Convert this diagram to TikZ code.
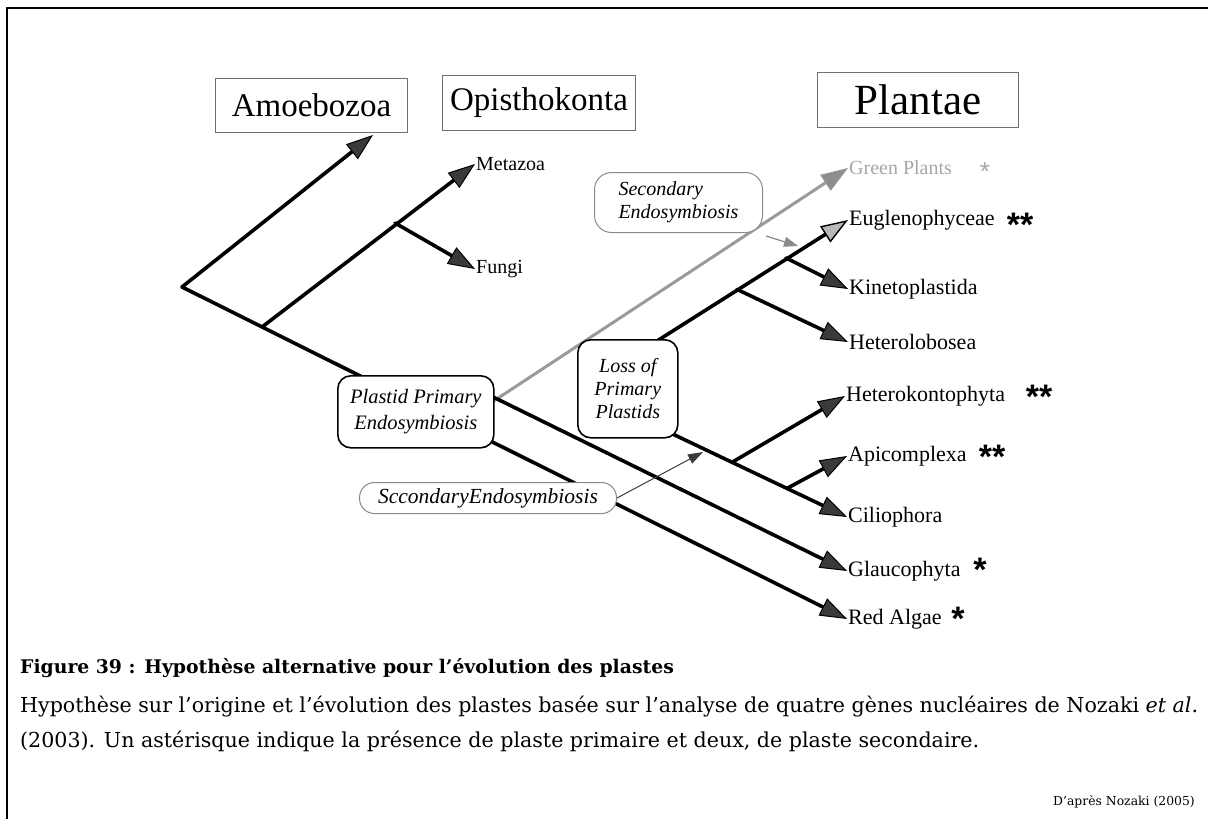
\documentclass[tikz,border=0pt]{standalone}
\usepackage{fontspec}
\setmainfont{Liberation Serif}
\newfontfamily\capfont{DejaVu Serif}
\newfontfamily\starfont{Liberation Sans}
\usetikzlibrary{arrows.meta}

\definecolor{headfill}{HTML}{3A3A3A}
\definecolor{greyline}{HTML}{9A9A9A}
\definecolor{greyhead}{HTML}{8E8E8E}
\definecolor{eughead}{HTML}{B8B8B8}
\definecolor{boxline}{HTML}{707070}
\definecolor{softline}{HTML}{8A8A8A}
\definecolor{greentext}{HTML}{A6A6A6}

\begin{document}
\begin{tikzpicture}[x=1pt,y=-1pt,
  tree/.style={line width=3.6pt, draw=black, line cap=round},
  gtree/.style={line width=3pt, draw=greyline, line cap=round},
  darktip/.style={-{Triangle[length=27pt,width=19pt,line width=1pt,fill=headfill]}},
  euglenatip/.style={-{Triangle[length=27pt,width=19pt,line width=1.4pt,fill=eughead]}},
  greytip/.style={-{Triangle[length=27pt,width=19pt,line width=0.8pt,fill=greyhead]}},
  cladebox/.style={draw=boxline, line width=1.1pt, fill=white, inner sep=0pt,
                   font=\fontsize{33}{36}\selectfont},
  eventbox/.style={draw=black, line width=1.6pt, fill=white, rounded corners=13pt,
                   inner sep=0pt, align=center, font=\itshape\fontsize{20}{23}\selectfont},
  softbox/.style={draw=softline, line width=1pt, fill=white, rounded corners=17pt,
                  inner sep=0pt, font=\itshape\fontsize{20}{23}\selectfont},
  taxon/.style={anchor=west, inner sep=1pt, font=\fontsize{22}{24}\selectfont},
  smalltaxon/.style={anchor=west, inner sep=1pt, font=\fontsize{20}{22}\selectfont},
  star/.style={anchor=base, inner sep=0pt, font=\starfont\bfseries\fontsize{34}{34}\selectfont},
  caption/.style={anchor=base west, inner sep=0pt}
]
\useasboundingbox (0,0) rectangle (1208,819);

% frame
\draw[line width=2.6pt] (7,819) -- (7,8) -- (1208,8);

% branching points of the tree
\coordinate (root) at (182,287);
\coordinate (opis) at (262,327);
\coordinate (metafork) at (395,223);
\coordinate (ppeout) at (485,393);
\coordinate (ppegreen) at (480,410);
\coordinate (lossup) at (650,345.4);
\coordinate (kinfork) at (786,257.9);
\coordinate (hetfork) at (737,289.4);
\coordinate (lossdown) at (660,428);
\coordinate (strafork) at (732,462.3);
\coordinate (apifork) at (787,488.4);
\coordinate (amoebtip) at (373,135);

% taxon labels (their west end is where each arrow points)
\node[smalltaxon] (metazoa) at (475,164) {Metazoa};
\node[smalltaxon] (fungi) at (475,269) {Fungi};
\node[smalltaxon, text=greentext] (green) at (848,168) {Green Plants};
\node[taxon] (eugl) at (848,220) {Euglenophyceae};
\node[taxon] (kine) at (848,289) {Kinetoplastida};
\node[taxon] (hetl) at (848,342) {Heterolobosea};
\node[taxon] (hetk) at (845,396) {Heterokontophyta};
\node[taxon] (apic) at (847,456) {Apicomplexa};
\node[taxon] (cili) at (847,517) {Ciliophora};
\node[taxon] (glau) at (847,571) {Glaucophyta};
\node[taxon] (reda) at (847,619) {Red Algae};

% asterisks: one for a primary plastid, two for a secondary one
\node[star, text=greentext, font=\starfont\fontsize{26}{26}\selectfont] (sgreen) at (985,180) {*};
\node[star] (seugl) at (1020,236) {**};
\node[star] (shetk) at (1039,408) {**};
\node[star] (sapic) at (992,468) {**};
\node[star] (sglau) at (980,581) {*};
\node[star] (sreda) at (958,630) {*};

% the tree
\draw[tree, darktip] (root) -- (amoebtip);
\draw[tree, darktip] (root) -- (reda.west);
\draw[tree, darktip] (opis) -- (metazoa.west);
\draw[tree, darktip] (metafork) -- (fungi.west);
\draw[gtree, greytip] (ppegreen) -- (green.west);
\draw[tree, darktip] (ppeout) -- (glau.west);
\draw[tree, euglenatip] (lossup) -- (eugl.west);
\draw[tree, darktip] (kinfork) -- (kine.west);
\draw[tree, darktip] (hetfork) -- (hetl.west);
\draw[tree, darktip] (lossdown) -- (cili.west);
\draw[tree, darktip] (strafork) -- (hetk.west);
\draw[tree, darktip] (apifork) -- (apic.west);

% clade names
\node[cladebox, minimum width=192pt, minimum height=54pt, anchor=north west] (amoeb) at (215,78) {Amoebozoa};
\node[cladebox, minimum width=193pt, minimum height=55pt, anchor=north west] (opisth) at (442,75) {Opisthokonta};
\node[cladebox, minimum width=201pt, minimum height=55pt, anchor=north west,
      font=\fontsize{43}{46}\selectfont] (plantae) at (817,72) {Plantae};

% evolutionary events
\node[eventbox, minimum width=156pt, minimum height=72pt, anchor=north west,
      font=\itshape\fontsize{20.5}{26}\selectfont] (ppe) at (337,375)
      {Plastid Primary\\Endosymbiosis};
\node[eventbox, minimum width=100pt, minimum height=98pt, anchor=north west] (loss) at (577,339)
      {Loss of\\Primary\\Plastids};
\node[softbox, minimum width=168pt, minimum height=60pt, anchor=north west, align=left] (sec1) at (594,172)
      {Secondary\\Endosymbiosis};
\node[softbox, minimum width=257pt, minimum height=31pt, anchor=north west,
      rounded corners=15pt, font=\itshape\fontsize{21.5}{23}\selectfont] (sec2) at (359,482)
      {SccondaryEndosymbiosis};

% secondary endosymbiosis pointers
\coordinate (eugltarget) at (798,246);
\coordinate (stratarget) at (703,452);
\draw[softline, line width=1.2pt, -{Triangle[length=14pt,width=10pt,fill=softline]}]
      ([xshift=3pt,yshift=-3pt]sec1.south east) -- (eugltarget);
\draw[headfill, line width=1pt, -{Triangle[length=15pt,width=10pt,fill=headfill]}]
      (sec2.east) -- (stratarget);

% caption
\node[caption] (title) at (20,673)
  {\capfont\bfseries\fontsize{18.8}{22}\selectfont Figure 39 : Hypothèse alternative pour l’évolution des plastes};
\node[caption] (line1) at (20,712)
  {\capfont\fontsize{20.6}{24}\selectfont Hypothèse sur l’origine et l’évolution des plastes basée sur l’analyse de quatre gènes nucléaires de Nozaki \textit{et al.}};
\node[caption] (line2) at (20,747)
  {\capfont\fontsize{20.6}{24}\selectfont (2003). Un astérisque indique la présence de plaste primaire et deux, de plaste secondaire.};
\node[anchor=base east, inner sep=0pt] (credit) at (1195,805)
  {\capfont\fontsize{12.4}{15}\selectfont D’après Nozaki (2005)};
\end{tikzpicture}
\end{document}
